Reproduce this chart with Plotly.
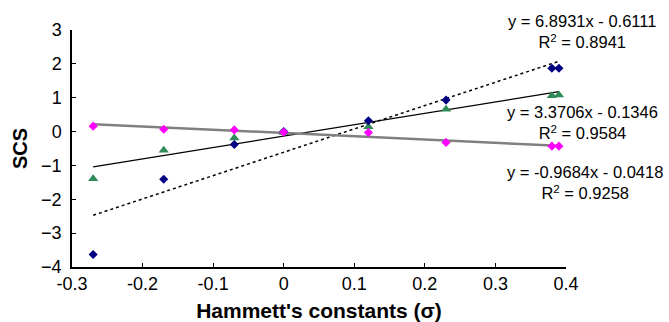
import plotly.graph_objects as go

sigma = [-0.27, -0.17, -0.07, 0.0, 0.12, 0.23, 0.38, 0.39]
scs_blue = [-3.63, -1.41, -0.38, 0.0, 0.32, 0.93, 1.87, 1.87]
scs_green = [-1.39, -0.55, -0.19, -0.03, 0.14, 0.66, 1.06, 1.08]
scs_magenta = [0.16, 0.07, 0.05, -0.02, -0.03, -0.32, -0.43, -0.43]

fit_blue = (6.8931, -0.6111, "0.8941")
fit_green = (3.3706, -0.1346, "0.9584")
fit_magenta = (-0.9684, -0.0418, "0.9258")

x_ticks = [-0.3, -0.2, -0.1, 0, 0.1, 0.2, 0.3, 0.4]
x_tick_text = ["-0.3", "-0.2", "-0.1", "0", "0.1", "0.2", "0.3", "0.4"]
y_ticks = [-4, -3, -2, -1, 0, 1, 2, 3]

fig = go.Figure()

xs = [min(sigma), max(sigma)]

def line(fit, color, dash, width):
    m, b, _ = fit
    fig.add_trace(go.Scatter(x=xs, y=[m * v + b for v in xs], mode="lines",
                             line=dict(color=color, dash=dash, width=width),
                             showlegend=False, hoverinfo="skip"))

line(fit_blue, "black", "dot", 1.5)
line(fit_green, "black", "solid", 1.3)
line(fit_magenta, "#808080", "solid", 2.5)

fig.add_trace(go.Scatter(x=sigma, y=scs_green, mode="markers",
                         marker=dict(symbol="triangle-up", size=9, color="#2E8B57"),
                         showlegend=False))
fig.add_trace(go.Scatter(x=sigma, y=scs_blue, mode="markers",
                         marker=dict(symbol="diamond", size=7, color="#000080"),
                         showlegend=False))
fig.add_trace(go.Scatter(x=sigma, y=scs_magenta, mode="markers",
                         marker=dict(symbol="diamond", size=7, color="#FF00FF"),
                         showlegend=False))

def eq_text(fit):
    m, b, r2 = fit
    sign = "-" if b < 0 else "+"
    return f"y = {m:.4f}x {sign} {abs(b):.4f}<br>R<sup>2</sup> = {r2}"

for fit, yp, xp in [(fit_blue, 31, 582), (fit_green, 122, 582), (fit_magenta, 182, 585)]:
    fig.add_annotation(xref="paper", yref="paper", x=(xp - 72) / 494, xanchor="center",
                       y=1 - (yp - 30) / 236.7, yanchor="middle",
                       text=eq_text(fit), showarrow=False,
                       font=dict(family="Arial, Liberation Sans", size=16.5, color="black"),
                       align="center")

fig.update_layout(
    width=669, height=322,
    margin=dict(l=72, r=103, t=30, b=55),
    plot_bgcolor="white", paper_bgcolor="white",
    font=dict(family="Arial, Liberation Sans", size=18, color="black"),
    xaxis=dict(range=[-0.3, 0.4], tickvals=x_ticks, ticktext=x_tick_text,
               showgrid=False, zeroline=False, showline=True, linecolor="black",
               linewidth=1.5, ticks="inside", ticklen=4, tickcolor="black",
               automargin=False,
               title=dict(text="<b>Hammett's constants (σ)</b>", standoff=10,
                          font=dict(size=21))),
    yaxis=dict(range=[-4, 3], tickvals=y_ticks,
               showgrid=False, zeroline=False, showline=True, linecolor="black",
               linewidth=1.5, ticks="inside", ticklen=4, tickcolor="black",
               automargin=False, ticklabelstandoff=5,
               title=dict(text="<b>SCS</b>", standoff=8, font=dict(size=20))),
)

fig.write_html("out.html", config={"displayModeBar": False},
               post_script="document.body.style.margin='0';document.body.style.padding='0';")
